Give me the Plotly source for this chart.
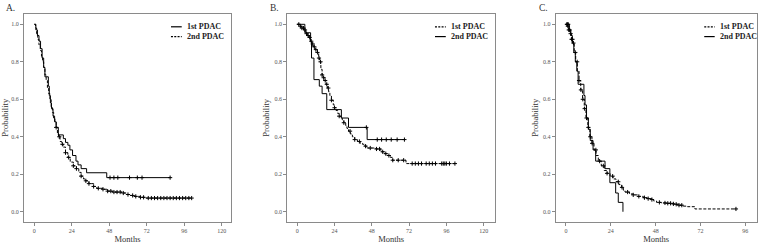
import plotly.graph_objects as go

# ---------------- data ----------------
# Panel A
a1_t = [0, 1, 2, 3, 4, 5, 6, 6.8, 9, 9.6, 10.3, 11, 12, 13, 14, 15.4, 18.6, 20, 21.5, 22.8,
        24.5, 26.7, 28, 30, 33.5, 46.4, 87]
a1_s = [1.0, 0.97, 0.94, 0.91, 0.87, 0.82, 0.77, 0.72, 0.67, 0.62, 0.58, 0.55, 0.51, 0.48,
        0.45, 0.41, 0.39, 0.37, 0.355, 0.33, 0.30, 0.27, 0.25, 0.23, 0.208, 0.182, 0.182]
a1_cens = [48.5, 51, 53.5, 61, 66, 69, 87]

a2_t = [0, 0.8, 1.5, 2.2, 3, 3.8, 4.6, 5.3, 6, 6.8, 7.6, 8.4, 9.2, 10, 10.8, 11.6, 12.4, 13.2,
        14, 14.8, 15.5, 16.5, 17.5, 18.6, 20, 21.5, 23, 25, 27, 28.5, 30, 31.5, 33, 35, 38, 40,
        44, 47, 50, 56, 59, 61, 64, 68, 71, 100.8]
a2_s = [1.0, 0.98, 0.95, 0.92, 0.89, 0.86, 0.83, 0.80, 0.77, 0.73, 0.70, 0.66, 0.63, 0.60,
        0.56, 0.53, 0.50, 0.48, 0.45, 0.42, 0.40, 0.375, 0.36, 0.345, 0.315, 0.29, 0.265,
        0.245, 0.23, 0.21, 0.19, 0.175, 0.165, 0.15, 0.135, 0.125, 0.12, 0.11, 0.105, 0.10,
        0.092, 0.087, 0.082, 0.077, 0.073, 0.073]
a2_cens = [14, 16, 18, 20, 22, 25, 27, 30, 33, 35, 38, 41, 44, 47, 49, 51, 53, 55, 57, 60, 63,
           65, 68, 70, 73, 75, 77, 79, 81, 83, 85, 87, 89, 91, 93, 95, 97, 99, 100.8]

# Panel B
b1_t = [0, 1.5, 3, 4.3, 5.5, 6.5, 7.5, 8.5, 9.5, 10.3, 11.5, 13, 13.8, 14.4, 15.2, 16, 16.8,
        17.6, 18.5, 19.4, 20.2, 21, 22, 23.2, 24, 25, 26, 27, 28, 29, 30, 31.2, 32, 33, 34.2,
        35.5, 37, 38.7, 40.5, 42, 43.5, 45, 50.5, 53.8, 56, 58, 60, 61.3, 70, 101.5]
b1_s = [1.0, 0.99, 0.98, 0.97, 0.95, 0.94, 0.93, 0.91, 0.895, 0.88, 0.865, 0.85, 0.82, 0.80,
        0.76, 0.73, 0.715, 0.70, 0.68, 0.66, 0.64, 0.62, 0.595, 0.57, 0.555, 0.54, 0.525, 0.51,
        0.50, 0.49, 0.475, 0.46, 0.445, 0.43, 0.415, 0.40, 0.385, 0.375, 0.365, 0.36, 0.35,
        0.34, 0.335, 0.32, 0.31, 0.30, 0.29, 0.275, 0.257, 0.257]
b1_cens = [1, 2, 3, 4, 5, 6, 7, 8, 9, 10, 11, 12, 13, 14, 15, 16, 17, 18, 19, 20, 22, 24, 27,
           30, 34, 37, 40, 44, 47, 51, 53, 55, 57, 59, 61.5, 65, 68.5, 74, 76, 78, 80, 83, 85,
           87, 89, 93, 94, 95, 96, 98, 101.5]

b2_t = [0, 4.9, 8.6, 9.2, 10.75, 14.2, 16, 19, 28.4, 33, 45, 69]
b2_s = [1.0, 0.955, 0.91, 0.82, 0.705, 0.67, 0.63, 0.545, 0.50, 0.45, 0.385, 0.385]
b2_cens = [44.5, 51.5, 54.3, 57.3, 60.5, 64.3, 69]

# Panel C
c1_t = [0, 0.8, 1.5, 2.2, 2.9, 3.6, 4.4, 5.2, 6.1, 7.0, 7.9, 8.9, 9.8, 10.7, 11.7, 12.8, 13.9,
        15, 16.1, 17.3, 18.9, 20.5, 22, 23.6, 25.2, 26.8, 28.3, 29.8, 30.7, 31.6, 34, 36, 38.5,
        41.4, 43.5, 45.9, 47, 48.5, 51, 53.9, 57, 58.4, 60.5, 62.8, 65, 69, 91]
c1_s = [1.0, 0.99, 0.97, 0.95, 0.92, 0.90, 0.85, 0.80, 0.75, 0.70, 0.65, 0.60, 0.55, 0.50,
        0.45, 0.40, 0.365, 0.33, 0.30, 0.27, 0.245, 0.22, 0.205, 0.19, 0.175, 0.16, 0.145,
        0.13, 0.115, 0.105, 0.095, 0.09, 0.082, 0.075, 0.07, 0.065, 0.057, 0.05, 0.047, 0.045,
        0.042, 0.04, 0.035, 0.03, 0.027, 0.015, 0.015]
c1_cens = [0.5, 1, 1.5, 2, 2.5, 3, 3.5, 4, 5, 6, 7, 8, 9, 10, 11, 12, 13, 14, 16, 18, 20, 22,
           25, 28, 30, 33, 36, 39, 42, 44, 46, 50, 53, 54.5, 56, 57.5, 59, 60.5, 62, 91]

c2_t = [0, 1.8, 2.6, 3.4, 4.2, 5.0, 5.8, 6.5, 9.6, 10.2, 11.0, 12.0, 13.0, 14.5, 15.9, 20.9,
        23.5, 26.6, 28.0, 30.5]
c2_s = [1.0, 0.97, 0.94, 0.90, 0.85, 0.80, 0.75, 0.68, 0.62, 0.57, 0.50, 0.44, 0.38, 0.33,
        0.27, 0.23, 0.155, 0.10, 0.05, 0.0]
c2_cens = [0.7, 1.2]

panel_labels = ["A.", "B.", "C."]
legend_names = [["1st PDAC", "2nd PDAC"], ["1st PDAC", "2nd PDAC"], ["1st PDAC", "2nd PDAC"]]
x_ticks = [[0, 24, 48, 72, 96, 120], [0, 24, 48, 72, 96, 120], [0, 24, 48, 72, 96]]
y_ticks = [0.0, 0.2, 0.4, 0.6, 0.8, 1.0]

# ---------------- helpers ----------------
def step_at(ts, ss, c):
    v = ss[0]
    for t, s in zip(ts, ss):
        if t <= c:
            v = s
    return v

W, H = 766, 245
FONT = "Liberation Serif, Times New Roman, serif"
DASH = "3px,1.6px"

# panel frames in pixels (left, right), shared top/bottom
frames = [(24, 231), (287.3, 495), (555.7, 756.7)]
top_px, bot_px = 14, 221.5
x_ranges = [[-6.6, 126], [-6.4, 127.3], [-5.5, 102.1]]
y_range = [-0.052, 1.055]

# (times, surv, censor, dashed?) per panel: first legend entry then second
panels = [
    [(a1_t, a1_s, a1_cens, False), (a2_t, a2_s, a2_cens, True)],
    [(b1_t, b1_s, b1_cens, True), (b2_t, b2_s, b2_cens, False)],
    [(c1_t, c1_s, c1_cens, True), (c2_t, c2_s, c2_cens, False)],
]

fig = go.Figure()
layout = dict(width=W, height=H, margin=dict(l=0, r=0, t=0, b=0),
              paper_bgcolor="white", plot_bgcolor="white", showlegend=False,
              font=dict(family=FONT, color="#222"))
annotations = []
shapes = []

for i, curves in enumerate(panels):
    sx = "" if i == 0 else str(i + 1)
    xa, ya = "x" + sx, "y" + sx
    for (ts, ss, cens, dashed) in curves:
        fig.add_trace(go.Scatter(
            x=ts, y=ss, mode="lines", xaxis=xa, yaxis=ya,
            line=dict(shape="hv", color="black", width=1, dash=DASH if dashed else "solid"),
            hoverinfo="skip"))
        fig.add_trace(go.Scatter(
            x=cens, y=[step_at(ts, ss, c) for c in cens], mode="markers", xaxis=xa, yaxis=ya,
            marker=dict(symbol="cross-thin", size=3, line=dict(width=1, color="black")),
            hoverinfo="skip"))
    l, r = frames[i]
    common = dict(showline=True, mirror=True, linecolor="#8a8a8a", linewidth=1,
                  ticks="outside", ticklen=3, tickcolor="#8a8a8a", showgrid=False,
                  zeroline=False, tickfont=dict(size=6, color="#555", family=FONT))
    layout["xaxis" + sx] = dict(
        domain=[l / W, r / W], anchor=ya, range=x_ranges[i], tickvals=x_ticks[i],
        title=dict(text="Months", font=dict(size=8.5, color="#333", family=FONT), standoff=3),
        **common)
    layout["yaxis" + sx] = dict(
        domain=[1 - bot_px / H, 1 - top_px / H], anchor=xa, range=y_range, tickvals=y_ticks,
        tickformat=".1f",
        title=dict(text="Probability", font=dict(size=8.5, color="#333", family=FONT), standoff=3),
        **common)
    # panel label
    annotations.append(dict(text=panel_labels[i], xref="paper", yref="paper",
                            x=(l - 20) / W if i == 0 else (l - 19) / W, y=1 - 7.5 / H,
                            xanchor="left", yanchor="middle", showarrow=False,
                            font=dict(size=9.5, color="#333", family=FONT)))
    # legend
    lx0 = {0: 0.71, 1: 0.711, 2: 0.739}[i]
    lx1 = lx0 + 0.052
    tx = lx1 + 0.015
    rows = [1 - (26.8 - top_px) / (bot_px - top_px), 1 - (36.6 - top_px) / (bot_px - top_px)]
    for k, (name, cur) in enumerate(zip(legend_names[i], curves)):
        shapes.append(dict(type="line", xref=xa + " domain", yref=ya + " domain",
                           x0=lx0, x1=lx1, y0=rows[k], y1=rows[k],
                           line=dict(color="black", width=1.2,
                                     dash="2px,1.3px" if cur[3] else "solid")))
        annotations.append(dict(text="<b>" + name + "</b>", xref=xa + " domain",
                                yref=ya + " domain", x=tx, y=rows[k], xanchor="left",
                                yanchor="middle", showarrow=False,
                                font=dict(size=8, color="#222", family=FONT)))

layout["annotations"] = annotations
layout["shapes"] = shapes
fig.update_layout(**layout)
fig.write_html("out.html", config={"displayModeBar": False},
               post_script="document.body.style.margin='0';")
